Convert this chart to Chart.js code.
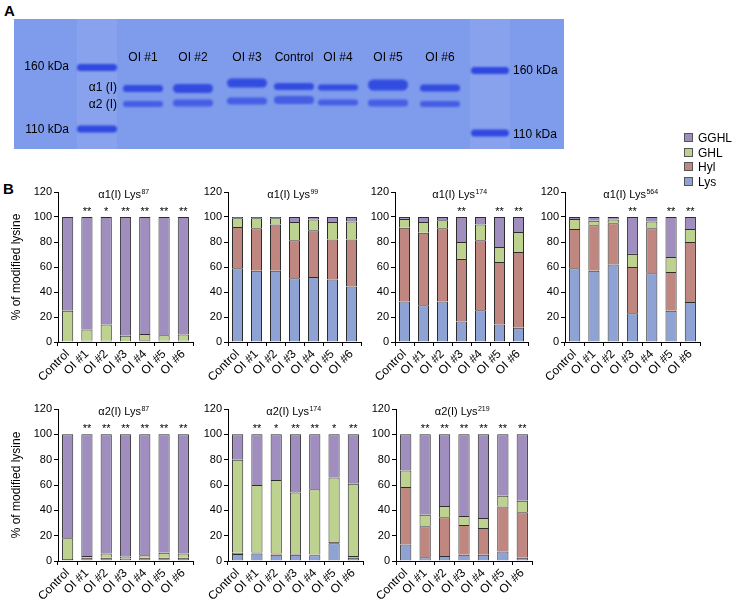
<!DOCTYPE html>
<html>
<head>
<meta charset="utf-8">
<script src="https://cdn.jsdelivr.net/npm/chart.js@4.4.1/dist/chart.umd.min.js"></script>
<style>
  body { margin: 0; width: 733px; height: 602px; background: #fff; position: relative; overflow: hidden;
         font-family: "Liberation Sans", Arial, sans-serif; }
  .panel { position: absolute; font-weight: bold; font-size: 15px; line-height: 15px; }
  canvas { position: absolute; }
  .item { position: absolute; left: 684px; height: 14px; line-height: 14px; font-size: 12px; white-space: nowrap; }
  .box { position: absolute; left: 0; top: 2px; width: 7px; height: 7px; border: 1px solid #555; }
  .item span { position: absolute; left: 14px; top: 0; }
</style>
</head>
<body>
<div class="panel" style="left:4px;top:3px">A</div>
<div class="panel" style="left:3px;top:181px">B</div>
<canvas id="gel" width="733" height="160" style="left:0;top:0"></canvas>
<script>
// ---- data ----
const categories = ['Control', 'OI #1', 'OI #2', 'OI #3', 'OI #4', 'OI #5', 'OI #6'];
const gelLanes = ['OI #1', 'OI #2', 'OI #3', 'Control', 'OI #4', 'OI #5', 'OI #6'];
const seriesNames = ['Lys', 'Hyl', 'GHL', 'GGHL'];
const seriesColors = ['#8ea3d4', '#c08780', '#bcd28e', '#a08fbe'];

// α1(I) Lys87
const a1K87Lys  = [0, 0, 0, 0, 0, 0, 0];
const a1K87Hyl  = [0.5, 1, 1, 0.5, 1.5, 1, 1];
const a1K87GHL  = [24.5, 9, 13, 4.5, 5, 4.5, 5];
const a1K87GGHL = [75, 90, 86, 95, 93.5, 94.5, 94];
const a1K87Sig  = ['', '**', '*', '**', '**', '**', '**'];

// α1(I) Lys99
const a1K99Lys  = [59, 57, 57, 51, 52, 50, 44.5];
const a1K99Hyl  = [33, 34, 37, 30.5, 37.5, 32, 37.5];
const a1K99GHL  = [7, 8, 5, 14.5, 8.5, 14, 14.5];
const a1K99GGHL = [1, 1, 1, 4, 2, 4, 3.5];
const a1K99Sig  = ['', '', '', '', '', '', ''];

// α1(I) Lys174
const a1K174Lys  = [32.5, 29.5, 32.5, 16.5, 25.5, 14, 11.5];
const a1K174Hyl  = [59, 58, 58.5, 50, 56, 50, 60.5];
const a1K174GHL  = [7, 8.5, 6.5, 13.5, 12.5, 12, 16];
const a1K174GGHL = [1.5, 4, 2.5, 20, 6, 24, 12];
const a1K174Sig  = ['', '', '', '**', '', '**', '**'];

// α1(I) Lys564
const a1K564Lys  = [59, 57, 62, 23, 55, 25, 32];
const a1K564Hyl  = [31.5, 36.5, 33, 37, 36, 31, 48];
const a1K564GHL  = [8, 3.5, 3, 10.5, 5.5, 12, 10.5];
const a1K564GGHL = [1.5, 3, 2, 29.5, 3.5, 32, 9.5];
const a1K564Sig  = ['', '', '', '**', '', '**', '**'];

// α2(I) Lys87
const a2K87Lys  = [0.5, 0.5, 0.5, 0.5, 0.5, 0.5, 0.5];
const a2K87Hyl  = [1, 2, 2, 1.5, 2, 2, 2];
const a2K87GHL  = [16.5, 1.5, 3.5, 1.5, 2, 4, 3.5];
const a2K87GGHL = [82, 96, 94, 96.5, 95.5, 93.5, 94];
const a2K87Sig  = ['', '**', '**', '**', '**', '**', '**'];

// α2(I) Lys174
const a2K174Lys  = [5.5, 6, 5, 5, 4.5, 14, 2.5];
const a2K174Hyl  = [1, 0.8, 1, 0.5, 0.7, 1, 1.5];
const a2K174GHL  = [73.5, 53.2, 58, 48.5, 51.5, 51, 57];
const a2K174GGHL = [20, 40, 36, 46, 43.3, 34, 39];
const a2K174Sig  = ['', '**', '*', '**', '**', '*', '**'];

// α2(I) Lys219
const a2K219Lys  = [13, 3, 4, 5, 5, 7.5, 2.5];
const a2K219Hyl  = [45.5, 24.5, 30.5, 23.5, 21, 35.5, 36];
const a2K219GHL  = [13, 9, 9, 7, 8, 8.5, 9];
const a2K219GGHL = [28.5, 63.5, 56.5, 64.5, 66, 48.5, 52.5];
const a2K219Sig  = ['', '**', '**', '**', '**', '**', '**'];

const panels = [
  { chain: 'α1(I)', site: '87',  values: [a1K87Lys, a1K87Hyl, a1K87GHL, a1K87GGHL], sig: a1K87Sig },
  { chain: 'α1(I)', site: '99',  values: [a1K99Lys, a1K99Hyl, a1K99GHL, a1K99GGHL], sig: a1K99Sig },
  { chain: 'α1(I)', site: '174', values: [a1K174Lys, a1K174Hyl, a1K174GHL, a1K174GGHL], sig: a1K174Sig },
  { chain: 'α1(I)', site: '564', values: [a1K564Lys, a1K564Hyl, a1K564GHL, a1K564GGHL], sig: a1K564Sig },
  { chain: 'α2(I)', site: '87',  values: [a2K87Lys, a2K87Hyl, a2K87GHL, a2K87GGHL], sig: a2K87Sig },
  { chain: 'α2(I)', site: '174', values: [a2K174Lys, a2K174Hyl, a2K174GHL, a2K174GGHL], sig: a2K174Sig },
  { chain: 'α2(I)', site: '219', values: [a2K219Lys, a2K219Hyl, a2K219GHL, a2K219GGHL], sig: a2K219Sig }
];

// plot boxes on the page (left, top of the 120 line, width, height)
const frames = [
  { x: 58,  y: 192, w: 135, h: 150, yTitle: true },
  { x: 228, y: 192, w: 133, h: 150 },
  { x: 395, y: 192, w: 133, h: 150 },
  { x: 565, y: 192, w: 135, h: 150 },
  { x: 58,  y: 409, w: 135, h: 152, yTitle: true },
  { x: 228, y: 409, w: 135, h: 152 },
  { x: 396, y: 409, w: 136, h: 152 }
];

// ---- panel A: the gel ----
const g = document.getElementById('gel').getContext('2d');
g.fillStyle = '#7f9bec';
g.fillRect(14, 19, 550, 130);
g.fillStyle = 'rgba(255,255,255,0.07)';
g.fillRect(77, 19, 40, 130);
g.fillRect(470, 19, 40, 130);

function band(cx, cy, w, h, a) {
  g.save();
  g.filter = 'blur(1.3px)';
  g.fillStyle = 'rgba(38,62,222,' + a + ')';
  g.beginPath();
  g.roundRect(cx - w / 2, cy - h / 2, w, h, h / 2);
  g.fill();
  g.restore();
}
// ladders
band(97, 67.5, 40, 7, 0.9);
band(97, 129, 40, 7, 0.9);
band(490, 70.5, 38, 7, 0.9);
band(490, 133, 38, 7, 0.9);
// sample lanes: centre x, α1 y, α1 h, α2 y, α2 h
const laneX = [143, 193, 247, 294, 338, 388, 440];
const a1Y = [88.5, 88.5, 83, 86.5, 87.5, 85, 88];
const a1H = [7, 9, 9, 7, 6, 11, 7];
const a2Y = [104, 103, 101, 100, 102.5, 103, 104];
const a2H = [6, 7, 7, 8, 6, 7, 6];
laneX.forEach((x, i) => {
  band(x, a1Y[i], 40, a1H[i], 0.85);
  band(x, a2Y[i], 40, a2H[i], 0.65);
});

g.fillStyle = '#000';
g.font = '12px "Liberation Sans", Arial, sans-serif';
g.textBaseline = 'middle';
g.textAlign = 'center';
gelLanes.forEach((t, i) => g.fillText(t, laneX[i], 58));
g.textAlign = 'right';
g.fillText('160 kDa', 69, 67);
g.fillText('110 kDa', 69, 130);
g.fillText('α1 (I)', 117, 88);
g.fillText('α2 (I)', 117, 105);
g.textAlign = 'left';
g.fillText('160 kDa', 513, 71);
g.fillText('110 kDa', 513, 135);

// ---- legend ----
[3, 2, 1, 0].forEach((k, i) => {
  const d = document.createElement('div');
  d.className = 'item';
  d.style.top = (138 + i * 14.5 - 7) + 'px';
  d.innerHTML = '<div class="box" style="background:' + seriesColors[k] + '"></div><span>' + seriesNames[k] + '</span>';
  document.body.appendChild(d);
});

// ---- panel B: stacked bars ----
Chart.defaults.font.family = '"Liberation Sans", Arial, sans-serif';
Chart.defaults.color = '#000';

const annotate = {
  id: 'annotate',
  afterDatasetsDraw(chart, args, opts) {
    const { ctx, chartArea, scales } = chart;
    ctx.save();
    ctx.fillStyle = '#000';
    ctx.textBaseline = 'alphabetic';
    const main = opts.chain + ' Lys';
    ctx.font = '11px "Liberation Sans", Arial, sans-serif';
    const w1 = ctx.measureText(main).width;
    ctx.font = '7px "Liberation Sans", Arial, sans-serif';
    const w2 = ctx.measureText(opts.site).width;
    const start = (chartArea.left + chartArea.right) / 2 - (w1 + w2) / 2 - 2;
    const ty = chartArea.top + 6;
    ctx.textAlign = 'left';
    ctx.font = '11px "Liberation Sans", Arial, sans-serif';
    ctx.fillText(main, start, ty);
    ctx.font = '7px "Liberation Sans", Arial, sans-serif';
    ctx.fillText(opts.site, start + w1 + 0.5, ty - 4);
    ctx.font = '11px "Liberation Sans", Arial, sans-serif';
    ctx.textAlign = 'center';
    const sy = scales.y.getPixelForValue(100) - 2;
    opts.sig.forEach((s, i) => { if (s) ctx.fillText(s, scales.x.getPixelForValue(i), sy); });
    ctx.restore();
  }
};

panels.forEach((p, n) => {
  const f = frames[n];
  const yw = f.yTitle ? f.x : 34;
  const padTop = 12, xh = 50, padRight = 4;
  const c = document.createElement('canvas');
  c.width = yw + f.w + padRight;
  c.height = padTop + f.h + xh;
  c.style.left = (f.x - yw) + 'px';
  c.style.top = (f.y - padTop) + 'px';
  document.body.appendChild(c);

  new Chart(c, {
    type: 'bar',
    data: {
      labels: categories,
      datasets: seriesNames.map((name, k) => ({
        label: name,
        data: p.values[k],
        backgroundColor: seriesColors[k],
        borderColor: '#2d2d2d',
        borderWidth: 1,
        barPercentage: 0.58,
        categoryPercentage: 1
      }))
    },
    options: {
      responsive: false,
      animation: false,
      devicePixelRatio: 1,
      layout: { padding: { top: padTop, right: padRight, left: 0, bottom: 0 } },
      plugins: {
        legend: { display: false },
        tooltip: { enabled: false },
        annotate: { chain: p.chain, site: p.site, sig: p.sig }
      },
      scales: {
        x: {
          stacked: true,
          border: { color: '#000', width: 1 },
          grid: { drawOnChartArea: false, color: '#000', tickLength: 4 },
          ticks: { maxRotation: 45, minRotation: 45, autoSkip: false, padding: 1,
                   font: { size: 12 }, color: '#000' },
          afterFit: s => { s.height = xh; }
        },
        y: {
          stacked: true,
          min: 0, max: 120,
          border: { color: '#000', width: 1 },
          grid: { drawOnChartArea: false, color: '#000', tickLength: 4 },
          ticks: { stepSize: 20, padding: 2, font: { size: 11 }, color: '#000' },
          title: { display: !!f.yTitle, text: '% of modified lysine',
                   font: { size: 12 }, color: '#000', padding: { top: 9, bottom: 0 } },
          afterFit: s => { s.width = yw; }
        }
      }
    },
    plugins: [annotate]
  });
});
</script>
</body>
</html>
